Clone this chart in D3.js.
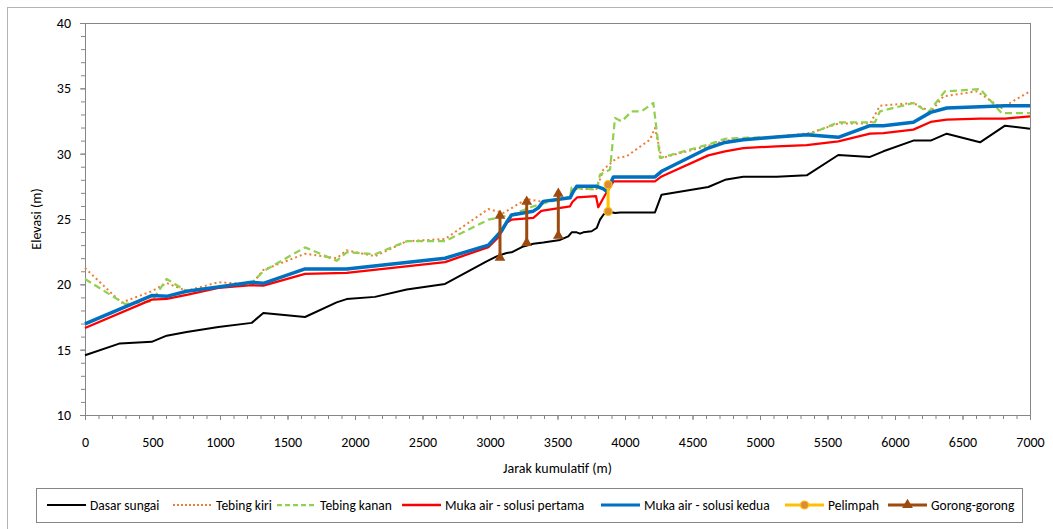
<!DOCTYPE html>
<html>
<head>
<meta charset="utf-8">
<title>Profil muka air</title>
<script src="https://d3js.org/d3.v7.min.js"></script>
<style>
  body { margin: 0; background: #fff; }
  text { font-family: Carlito, Calibri, Lato, sans-serif; fill: #000; }
  .axis text { font-size: 14px; }
  .axis path, .axis line { stroke: #868686; }
  .legend text { font-size: 13.5px; }
</style>
</head>
<body>
<svg width="1053" height="529"></svg>
<script>
// Dasar sungai
var dasarX = [0, 259, 494, 605, 753, 988, 1235, 1321, 1630, 1864, 1938, 2148, 2383, 2667, 2975, 3049, 3123, 3160, 3247, 3321, 3395, 3519, 3580, 3605, 3642, 3667, 3691, 3753, 3790, 3815, 3840, 3877, 3926, 3963, 4222, 4271, 4617, 4741, 4876, 5123, 5346, 5580, 5815, 5914, 6136, 6264, 6383, 6630, 6815, 7000];
var dasarY = [14.57, 15.48, 15.6, 16.07, 16.35, 16.73, 17.05, 17.81, 17.5, 18.62, 18.87, 19.04, 19.6, 20.03, 21.76, 22.14, 22.4, 22.45, 22.9, 23.1, 23.2, 23.4, 23.67, 23.98, 23.98, 23.88, 23.98, 24.06, 24.31, 24.95, 25.33, 25.58, 25.46, 25.5, 25.5, 26.86, 27.45, 28.0, 28.24, 28.24, 28.34, 29.9, 29.75, 30.18, 31.0, 31.0, 31.53, 30.87, 32.14, 31.9];

// Tebing kiri
var kiriX = [0, 270, 494, 605, 753, 988, 1235, 1321, 1630, 1864, 1938, 2148, 2383, 2667, 2988, 3099, 3272, 3370, 3593, 3605, 3790, 3840, 3938, 4012, 4185, 4222, 4271, 4617, 4741, 4876, 5123, 5370, 5580, 5815, 5889, 6136, 6264, 6358, 6605, 6790, 7000];
var kiriY = [21.25, 18.6, 19.47, 20.1, 19.5, 20.16, 20.0, 21.1, 22.34, 22.0, 22.6, 22.15, 23.3, 23.47, 25.76, 25.46, 26.53, 26.35, 26.6, 27.3, 27.3, 28.78, 29.67, 29.8, 31.07, 31.97, 29.67, 30.6, 31.0, 31.1, 31.3, 31.58, 32.3, 32.3, 33.67, 33.88, 33.2, 34.38, 34.77, 33.5, 34.77];

// Tebing kanan
var kananX = [0, 296, 494, 605, 753, 988, 1235, 1321, 1630, 1864, 1938, 2148, 2383, 2667, 2988, 3160, 3321, 3395, 3593, 3605, 3790, 3815, 3889, 3926, 3975, 4049, 4123, 4210, 4259, 4617, 4741, 4876, 5123, 5370, 5580, 5852, 5889, 6136, 6247, 6370, 6630, 6790, 7000];
var kananY = [20.41, 18.5, 18.7, 20.41, 19.47, 19.8, 20.1, 21.0, 22.83, 21.8, 22.45, 22.3, 23.3, 23.3, 24.95, 25.33, 25.97, 26.2, 26.7, 27.4, 27.24, 28.4, 28.78, 32.73, 32.47, 33.24, 33.24, 33.88, 29.67, 30.7, 31.14, 31.2, 31.3, 31.5, 32.4, 32.4, 33.24, 33.88, 33.16, 34.77, 34.95, 33.1, 33.1];

// Muka air - solusi pertama
var pertamaX = [0, 494, 605, 753, 988, 1235, 1321, 1630, 1938, 2667, 2988, 3062, 3123, 3160, 3321, 3345, 3380, 3593, 3610, 3645, 3785, 3802, 3850, 3915, 4222, 4271, 4617, 4741, 4876, 5123, 5346, 5580, 5815, 5914, 6136, 6264, 6383, 6630, 6815, 7000];
var pertamaY = [16.66, 18.83, 18.88, 19.2, 19.72, 19.93, 19.9, 20.8, 20.87, 21.7, 22.85, 23.6, 24.7, 24.95, 25.08, 25.3, 25.62, 25.97, 26.3, 26.65, 26.75, 25.9, 26.8, 27.88, 27.88, 28.26, 29.87, 30.18, 30.43, 30.56, 30.66, 30.94, 31.53, 31.58, 31.84, 32.43, 32.6, 32.68, 32.68, 32.86];

// Muka air - solusi kedua
var keduaX = [0, 494, 605, 753, 988, 1235, 1321, 1630, 1938, 2667, 2988, 3086, 3123, 3160, 3321, 3358, 3395, 3593, 3617, 3642, 3790, 3840, 3864, 3914, 4222, 4271, 4617, 4741, 4876, 5123, 5346, 5580, 5815, 5914, 6136, 6264, 6383, 6630, 6815, 7000];
var keduaY = [16.97, 19.14, 19.08, 19.47, 19.8, 20.16, 20.08, 21.18, 21.18, 22.0, 23.0, 24.1, 24.75, 25.3, 25.6, 25.85, 26.35, 26.62, 27.1, 27.5, 27.5, 27.3, 27.12, 28.22, 28.22, 28.65, 30.43, 30.86, 31.06, 31.28, 31.45, 31.25, 32.14, 32.14, 32.4, 33.16, 33.49, 33.6, 33.67, 33.67];

// Pelimpah (bawah, atas)
var pelimpahX = [3875];
var pelimpahBawah = [25.58];
var pelimpahAtas = [27.63];

// Gorong-gorong (bawah, atas)
var gorongX = [3074, 3272, 3506];
var gorongBawah = [22.04, 23.17, 23.73];
var gorongAtas = [25.26, 26.33, 26.94];

var xTicks = d3.range(0, 7001, 500);
var yTicks = [10, 15, 20, 25, 30, 35, 40];

var series = [
  {name: "Dasar sungai", xs: dasarX, ys: dasarY, color: "#000000", width: 2, dash: null},
  {name: "Tebing kiri", xs: kiriX, ys: kiriY, color: "#ED7D31", width: 2, dash: "2,3"},
  {name: "Tebing kanan", xs: kananX, ys: kananY, color: "#92D050", width: 2.25, dash: "7,4"},
  {name: "Muka air - solusi pertama", xs: pertamaX, ys: pertamaY, color: "#FF0000", width: 2.25, dash: null},
  {name: "Muka air - solusi kedua", xs: keduaX, ys: keduaY, color: "#0070C0", width: 3.5, dash: null}
];

var svg = d3.select("svg");
var margin = {left: 85, right: 23, top: 23, bottom: 114};
var W = 1053 - margin.left - margin.right;
var H = 529 - margin.top - margin.bottom;

// outer chart border
svg.append("rect")
  .attr("x", 7.5).attr("y", 7.5)
  .attr("width", 1060).attr("height", 540)
  .attr("fill", "none").attr("stroke", "#b4b4b4");

var g = svg.append("g").attr("transform", "translate(" + margin.left + "," + margin.top + ")");

var x = d3.scaleLinear().domain([0, 7000]).range([0, W]);
var y = d3.scaleLinear().domain([10, 40]).range([H, 0]);

// plot border
g.append("rect")
  .attr("x", 0.5).attr("y", 0.5)
  .attr("width", W).attr("height", H)
  .attr("fill", "none").attr("stroke", "#868686");

// minor ticks
g.append("g").attr("class", "axis")
  .attr("transform", "translate(0," + H + ")")
  .call(d3.axisBottom(x).tickValues(d3.range(0, 7001, 100)).tickSize(4).tickFormat(""))
  .call(function(s) { s.select(".domain").remove(); });
g.append("g").attr("class", "axis")
  .call(d3.axisLeft(y).tickValues(d3.range(10, 41, 1)).tickSize(4).tickFormat(""))
  .call(function(s) { s.select(".domain").remove(); });

// major axes
g.append("g").attr("class", "axis")
  .attr("transform", "translate(0," + H + ")")
  .call(d3.axisBottom(x).tickValues(xTicks).tickSize(5).tickSizeOuter(0).tickPadding(17).tickFormat(d3.format("d")));
g.append("g").attr("class", "axis")
  .call(d3.axisLeft(y).tickValues(yTicks).tickSize(5).tickSizeOuter(0).tickPadding(9).tickFormat(d3.format("d")));

g.selectAll(".axis text").attr("fill", "#000");

// axis titles
g.append("text")
  .attr("x", W / 2).attr("y", H + 58)
  .attr("text-anchor", "middle")
  .style("font-size", "14px")
  .text("Jarak kumulatif (m)");
g.append("text")
  .attr("transform", "translate(" + (-44) + "," + (H / 2) + ") rotate(-90)")
  .attr("text-anchor", "middle")
  .style("font-size", "14px")
  .text("Elevasi (m)");

var line = d3.line()
  .x(function(d) { return x(d[0]); })
  .y(function(d) { return y(d[1]); });

series.forEach(function(s) {
  var pts = s.xs.map(function(v, i) { return [v, s.ys[i]]; });
  g.append("path")
    .datum(pts)
    .attr("d", line)
    .attr("fill", "none")
    .attr("stroke", s.color)
    .attr("stroke-width", s.width)
    .attr("stroke-linejoin", "round")
    .attr("stroke-dasharray", s.dash);
});

// Pelimpah
pelimpahX.forEach(function(v, i) {
  g.append("line")
    .attr("x1", x(v)).attr("x2", x(v))
    .attr("y1", y(pelimpahBawah[i])).attr("y2", y(pelimpahAtas[i]))
    .attr("stroke", "#FFC000").attr("stroke-width", 3);
  [pelimpahBawah[i], pelimpahAtas[i]].forEach(function(e) {
    g.append("circle")
      .attr("cx", x(v)).attr("cy", y(e)).attr("r", 4)
      .attr("fill", "#DD8B3A").attr("stroke", "#FFC000").attr("stroke-width", 1.2);
  });
});

// Gorong-gorong
var tri = d3.symbol().type(d3.symbolTriangle).size(50);
gorongX.forEach(function(v, i) {
  g.append("line")
    .attr("x1", x(v)).attr("x2", x(v))
    .attr("y1", y(gorongBawah[i])).attr("y2", y(gorongAtas[i]))
    .attr("stroke", "#9C4A0E").attr("stroke-width", 3);
  [gorongBawah[i], gorongAtas[i]].forEach(function(e) {
    g.append("path")
      .attr("d", tri)
      .attr("transform", "translate(" + x(v) + "," + y(e) + ")")
      .attr("fill", "#9C4A0E");
  });
});

// legend
var legend = svg.append("g").attr("class", "legend");
legend.append("rect")
  .attr("x", 36.5).attr("y", 488.5)
  .attr("width", 986).attr("height", 34)
  .attr("fill", "#fff").attr("stroke", "#868686");

var legendItems = [
  {name: "Dasar sungai", color: "#000000", width: 2, dash: null, mark: null, x0: 47},
  {name: "Tebing kiri", color: "#ED7D31", width: 2, dash: "2,2", mark: null, x0: 173},
  {name: "Tebing kanan", color: "#92D050", width: 2.25, dash: "5,3", mark: null, x0: 277},
  {name: "Muka air - solusi pertama", color: "#FF0000", width: 2.5, dash: null, mark: null, x0: 402},
  {name: "Muka air - solusi kedua", color: "#0070C0", width: 3, dash: null, mark: null, x0: 601},
  {name: "Pelimpah", color: "#FFC000", width: 3, dash: null, mark: "circle", x0: 785},
  {name: "Gorong-gorong", color: "#9C4A0E", width: 3, dash: null, mark: "tri", x0: 888}
];
var ly = 505;
legendItems.forEach(function(it) {
  legend.append("line")
    .attr("x1", it.x0).attr("x2", it.x0 + 39)
    .attr("y1", ly).attr("y2", ly)
    .attr("stroke", it.color).attr("stroke-width", it.width)
    .attr("stroke-dasharray", it.dash);
  if (it.mark === "circle") {
    legend.append("circle").attr("cx", it.x0 + 19.5).attr("cy", ly).attr("r", 4)
      .attr("fill", "#DD8B3A").attr("stroke", "#FFC000").attr("stroke-width", 1.2);
  } else if (it.mark === "tri") {
    legend.append("path").attr("d", tri)
      .attr("transform", "translate(" + (it.x0 + 19.5) + "," + ly + ")")
      .attr("fill", "#9C4A0E");
  }
  legend.append("text")
    .attr("x", it.x0 + 43).attr("y", ly)
    .attr("dy", "0.35em")
    .text(it.name);
});
</script>
</body>
</html>
